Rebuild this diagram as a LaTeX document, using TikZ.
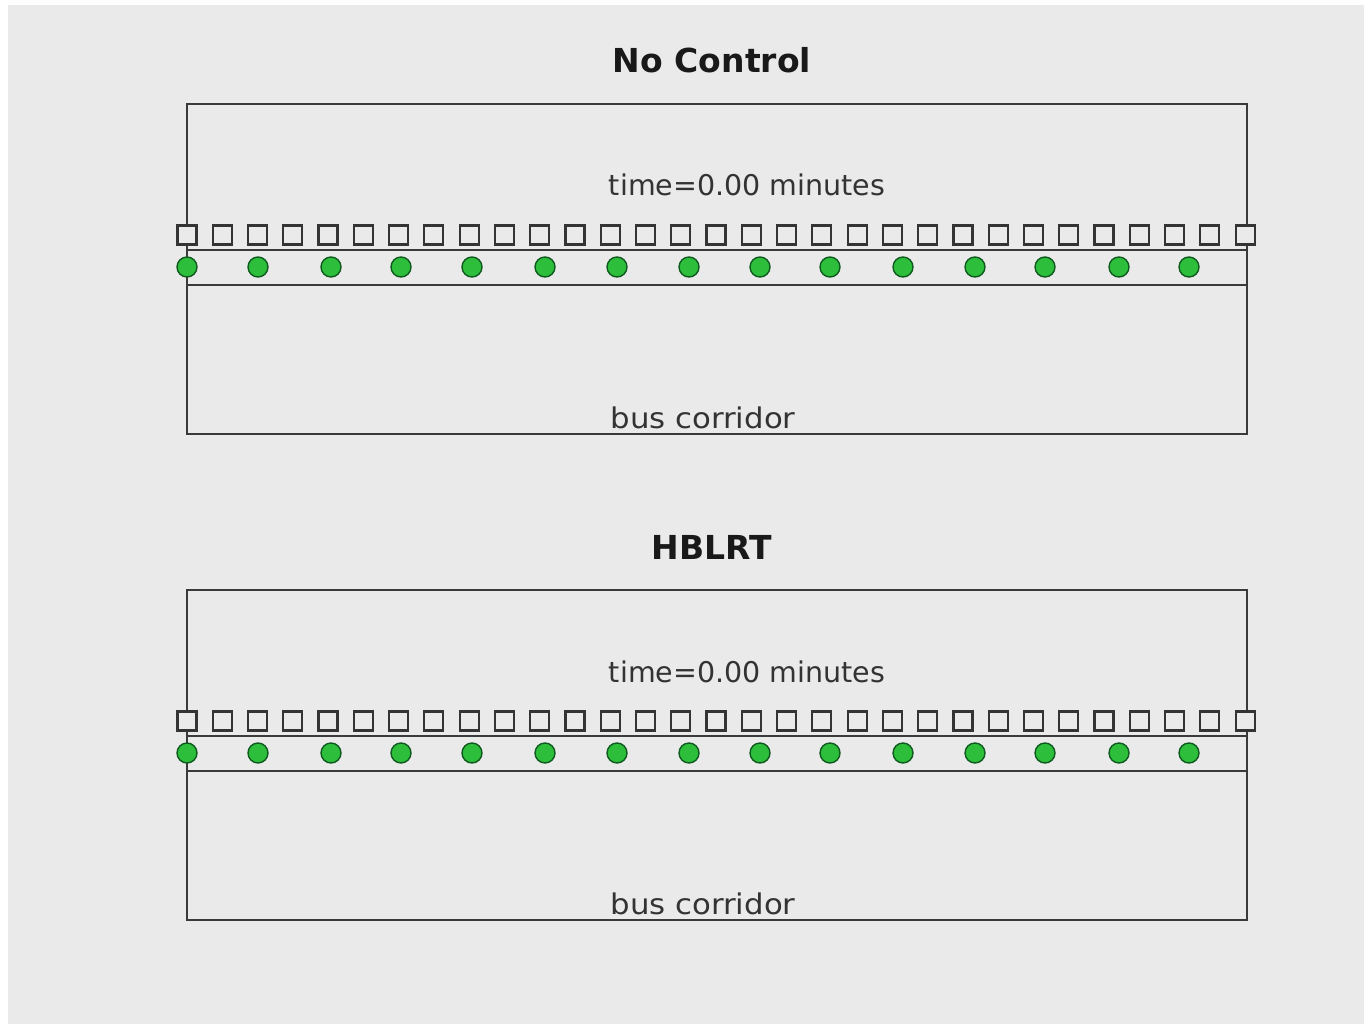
\documentclass[tikz,border=0pt]{standalone}
\usepackage{fontspec}
\setmainfont{DejaVu Sans}
\definecolor{bgc}{HTML}{EAEAEA}
\definecolor{linec}{HTML}{3A3A3A}
\definecolor{busg}{HTML}{2DBE3C}
\definecolor{busd}{HTML}{0F5A1E}
\tikzset{
  frame/.style={draw=linec, line width=2.4pt},
  lane/.style={draw=linec, line width=2pt},
  stopbox/.style={draw=linec!90!black, line width=2.2pt, fill=bgc, minimum size=19pt, inner sep=0pt, rectangle},
  busdot/.style={circle, draw=busd, line width=1.4pt, fill=busg, minimum size=20pt, inner sep=0pt},
  titletext/.style={font=\fontsize{33}{38}\selectfont\bfseries, text=black!90, anchor=base, inner sep=0pt},
  infotext/.style={font=\fontsize{28.5}{32}\selectfont, text=black!80, anchor=base, inner sep=0pt}
}
\begin{document}
\begin{tikzpicture}[x=1pt,y=-1pt]
\useasboundingbox (0,0) rectangle (1364,1024);
\fill[white] (0,0) rectangle (1364,1024);
\fill[bgc] (8,5) rectangle (1364,1024);
\foreach \oy/\ttl/\p in {0/No Control/a, 486/HBLRT/b}{
  \node[titletext] (title\p) at (712,73+\oy) {\ttl};
  \node[frame, rectangle, minimum width=1060pt, minimum height=330pt, inner sep=0pt, anchor=north west] (box\p) at (186,103+\oy) {};
  \node[infotext] (time\p) at (747,196+\oy) {time=0.00 minutes};
  \node[infotext, xscale=1.08] (bus\p) at (703,428+\oy) {bus corridor};
  \coordinate (l1\p) at (186,250+\oy);
  \coordinate (r1\p) at (1246,250+\oy);
  \coordinate (l2\p) at (186,285+\oy);
  \coordinate (r2\p) at (1246,285+\oy);
  \draw[lane] (l1\p) -- (r1\p);
  \draw[lane] (l2\p) -- (r2\p);
  \foreach \i in {0,...,30}{
    \node[stopbox] (sq\p\i) at ({187+\i*35.27},235+\oy) {};
  }
  \foreach \x [count=\j] in {187,258,331,401,472,545,617,689,760,830,903,975,1045,1119,1189}{
    \node[busdot] (c\p\j) at (\x,267+\oy) {};
  }
}
\end{tikzpicture}
\end{document}
